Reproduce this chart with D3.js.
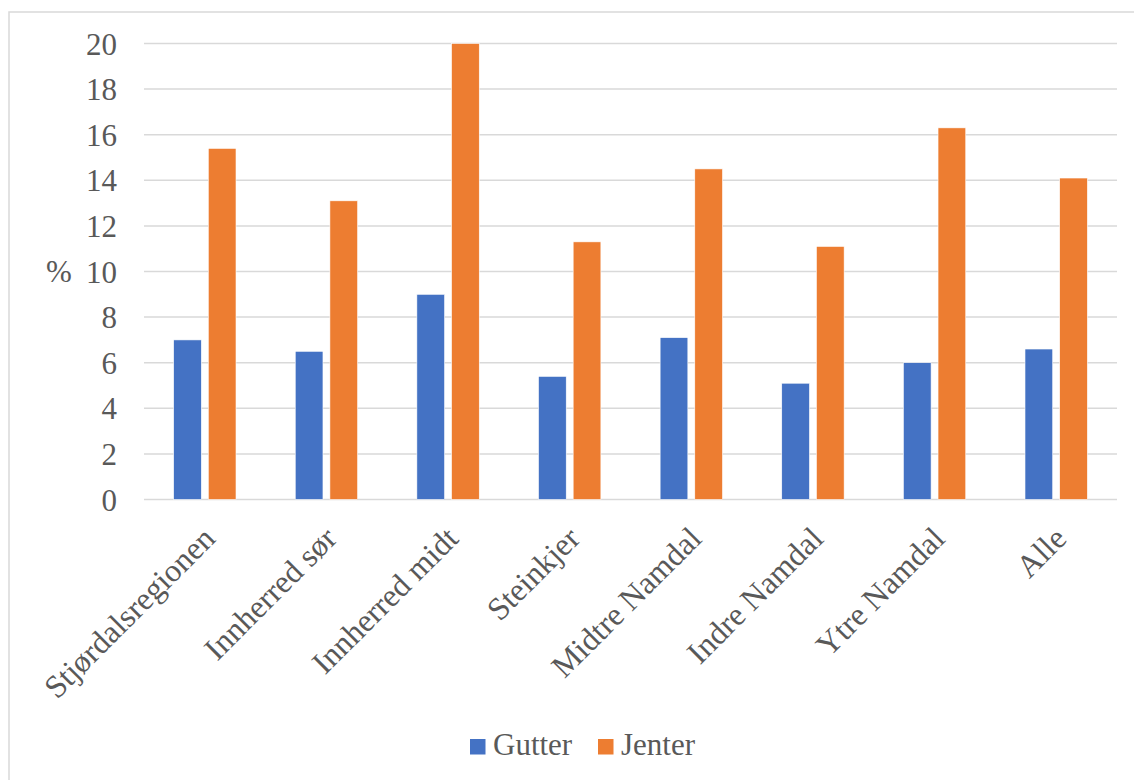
<!DOCTYPE html>
<html><head><meta charset="utf-8">
<script src="https://cdn.jsdelivr.net/npm/d3@7"></script>
<style>body{margin:0;background:#fff}svg{display:block}</style>
</head><body>
<script>
const categories = ["Stjørdalsregionen","Innherred sør","Innherred midt","Steinkjer","Midtre Namdal","Indre Namdal","Ytre Namdal","Alle"];
const seriesNames = ["Gutter","Jenter"];
const gutter = [7.0, 6.5, 9.0, 5.4, 7.1, 5.1, 6.0, 6.6];
const jenter = [15.4, 13.1, 20.0, 11.3, 14.5, 11.1, 16.3, 14.1];
const yTicks = [0,2,4,6,8,10,12,14,16,18,20];
const colors = ["#4472C4","#ED7D31"];

const W = 1134, H = 780;
const font = "'Liberation Serif','Times New Roman',serif";
const svg = d3.select("body").append("svg").attr("width", W).attr("height", H);

// outer frame
svg.append("rect").attr("x", 9).attr("y", 12).attr("width", W + 20).attr("height", H + 20)
  .attr("fill", "#fff").attr("stroke", "#d9d9d9").attr("stroke-width", 1.5);

const plot = {l: 144, r: 1117, t: 43.5, b: 499.5};
const y = d3.scaleLinear().domain([0, 20]).range([plot.b, plot.t]);
const x0 = d3.scaleBand().domain(categories).range([plot.l, plot.r]).padding(0);
const bw = x0.bandwidth();
const groupW = bw * 0.513;
const x1 = d3.scaleBand().domain(seriesNames).range([(bw - groupW) / 2, (bw + groupW) / 2]).paddingInner(0.2).paddingOuter(0);

// gridlines
svg.append("g").selectAll("line").data(yTicks).join("line")
  .attr("x1", plot.l).attr("x2", plot.r)
  .attr("y1", d => y(d)).attr("y2", d => y(d))
  .attr("stroke", "#d9d9d9").attr("stroke-width", 1.5);

// y axis labels
const yAxis = d3.axisLeft(y).tickValues(yTicks).tickSize(0).tickPadding(0);
const gy = svg.append("g").attr("transform", `translate(117,0)`).call(yAxis);
gy.select(".domain").remove();
gy.selectAll("text").attr("font-family", font).attr("font-size", 31).attr("fill", "#595959").attr("dy", "0.34em");

svg.append("text").attr("x", 46).attr("y", y(10)).attr("dy", "0.34em")
  .attr("font-family", font).attr("font-size", 31).attr("fill", "#595959").text("%");

// bars
const data = categories.map((c, i) => ({c, vals: [gutter[i], jenter[i]]}));
const groups = svg.append("g").selectAll("g").data(data).join("g")
  .attr("transform", d => `translate(${x0(d.c)},0)`);
groups.selectAll("rect").data(d => d.vals.map((v, k) => ({k, v}))).join("rect")
  .attr("x", d => x1(seriesNames[d.k]))
  .attr("width", x1.bandwidth())
  .attr("y", d => y(d.v))
  .attr("height", d => y(0) - y(d.v))
  .attr("fill", d => colors[d.k])
  .attr("stroke", "#fff").attr("stroke-width", 0.6);

// x axis labels
const xAxis = d3.axisBottom(x0).tickSize(0).tickPadding(0);
const gx = svg.append("g").attr("transform", `translate(0,${plot.b})`).call(xAxis);
gx.select(".domain").remove();
gx.selectAll("text")
  .attr("font-family", font).attr("font-size", 32).attr("fill", "#595959")
  .attr("text-anchor", "end").attr("dy", null).attr("y", 0)
  .attr("transform", "translate(12,41) rotate(-45)");

// legend
const leg = svg.append("g");
const legItems = [{n: "Gutter", x: 470}, {n: "Jenter", x: 598}];
legItems.forEach((it, i) => {
  leg.append("rect").attr("x", it.x).attr("y", 739).attr("width", 15.5).attr("height", 15.5).attr("fill", colors[i]);
  leg.append("text").attr("x", it.x + 23).attr("y", 755).attr("font-family", font).attr("font-size", 31)
    .attr("fill", "#595959").text(it.n);
});
</script>
</body></html>
